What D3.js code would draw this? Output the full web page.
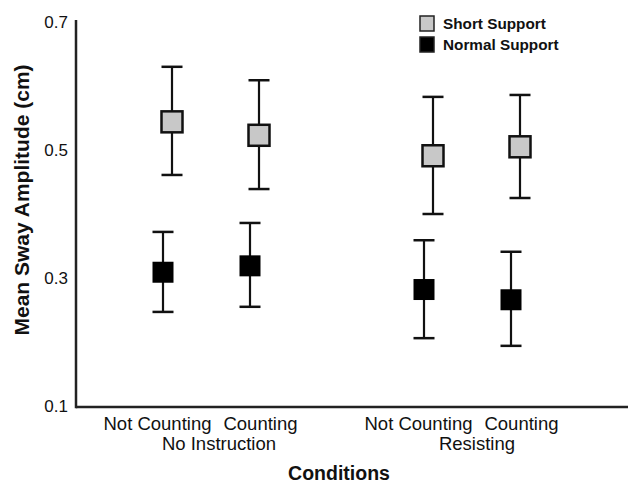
<!DOCTYPE html>
<html><head><meta charset="utf-8">
<script src="https://cdn.jsdelivr.net/npm/d3@7"></script>
<style>body{margin:0;background:#fff;} text{font-family:"Liberation Sans",Arial,sans-serif;fill:#111;}</style>
</head><body>
<svg id="c" width="628" height="484"></svg>
<script>
const conditions = ["Not Counting", "Counting", "Not Counting", "Counting"];
const slots = [0, 1, 3, 4];
const groups = ["No Instruction", "Resisting"];
const groupSlots = [0.5, 3.5];
const yTicks = [0.1, 0.3, 0.5, 0.7];
const series = ["Short Support", "Normal Support"];
const shortMean = [0.544, 0.523, 0.491, 0.505];
const shortHigh = [0.630, 0.609, 0.583, 0.586];
const shortLow  = [0.461, 0.439, 0.400, 0.425];
const normalMean = [0.309, 0.319, 0.282, 0.266];
const normalHigh = [0.372, 0.386, 0.359, 0.341];
const normalLow  = [0.247, 0.255, 0.206, 0.194];

const svg = d3.select("#c");
const x = d3.scaleLinear().domain([0, 4]).range([167.5, 515.5]);
const y = d3.scaleLinear().domain([0.1, 0.7]).range([406, 22]);
const axisX0 = 76, axisY0 = 407;

// axes
svg.append("line").attr("x1", axisX0).attr("x2", axisX0).attr("y1", 20).attr("y2", axisY0 + 1.2)
  .attr("stroke", "#222").attr("stroke-width", 2.5);
svg.append("line").attr("x1", axisX0).attr("x2", 628).attr("y1", axisY0).attr("y2", axisY0)
  .attr("stroke", "#222").attr("stroke-width", 2.5);

const yAxis = svg.append("g").attr("transform", `translate(${axisX0},0)`)
  .call(d3.axisLeft(y).tickValues(yTicks).tickFormat(d3.format(".1f")).tickSize(0).tickPadding(8));
yAxis.select(".domain").remove();
yAxis.selectAll("text").style("font-size", "17px").attr("fill", "#111").style("font-family", '"Liberation Sans",Arial,sans-serif');

// category labels
svg.selectAll(".cat").data(conditions).join("text")
  .attr("x", (d, i) => x(slots[i]) + (i % 2 === 0 ? -10 : 6))
  .attr("y", 430).attr("text-anchor", "middle").style("font-size", "18.5px").text(d => d);
svg.selectAll(".grp").data(groups).join("text")
  .attr("x", (d, i) => x(groupSlots[i]) + (i === 0 ? 8 : 5))
  .attr("y", 450).attr("text-anchor", "middle").style("font-size", "18.5px").text(d => d);

svg.append("text").attr("x", 339).attr("y", 480).attr("text-anchor", "middle")
  .style("font-size", "19.5px").style("font-weight", "bold").text("Conditions");
svg.append("text").attr("transform", "translate(29,200) rotate(-90)").attr("text-anchor", "middle")
  .style("font-size", "21px").style("font-weight", "bold").text("Mean Sway Amplitude (cm)");

const sz = 21, cap = 21;
function drawSeries(mean, hi, lo, dx, fill, stroke) {
  const g = svg.append("g");
  mean.forEach((m, i) => {
    const cx = x(slots[i]) + dx;
    g.append("line").attr("x1", cx).attr("x2", cx).attr("y1", y(hi[i])).attr("y2", y(lo[i]))
      .attr("stroke", "#111").attr("stroke-width", 2.2);
    [hi[i], lo[i]].forEach(v => g.append("line").attr("x1", cx - cap / 2).attr("x2", cx + cap / 2)
      .attr("y1", y(v)).attr("y2", y(v)).attr("stroke", "#111").attr("stroke-width", 2.5));
    g.append("rect").attr("x", cx - sz / 2).attr("y", y(m) - sz / 2).attr("width", sz).attr("height", sz)
      .attr("fill", fill).attr("stroke", stroke).attr("stroke-width", stroke === "none" ? 0 : 2.5);
  });
}
drawSeries(shortMean, shortHigh, shortLow, 4.5, "#c8c8c8", "#111");
drawSeries(normalMean, normalHigh, normalLow, -4.5, "#000", "none");

// legend
const leg = svg.append("g");
const legFill = ["#c8c8c8", "#000"];
series.forEach((s, i) => {
  leg.append("rect").attr("x", 420).attr("y", 16 + i * 21).attr("width", 14).attr("height", 15)
    .attr("fill", legFill[i]).attr("stroke", "#222").attr("stroke-width", 1.5);
  leg.append("text").attr("x", 443).attr("y", 28.5 + i * 21).style("font-size", "15.3px")
    .style("font-weight", "bold").text(s);
});
</script>
</body></html>
